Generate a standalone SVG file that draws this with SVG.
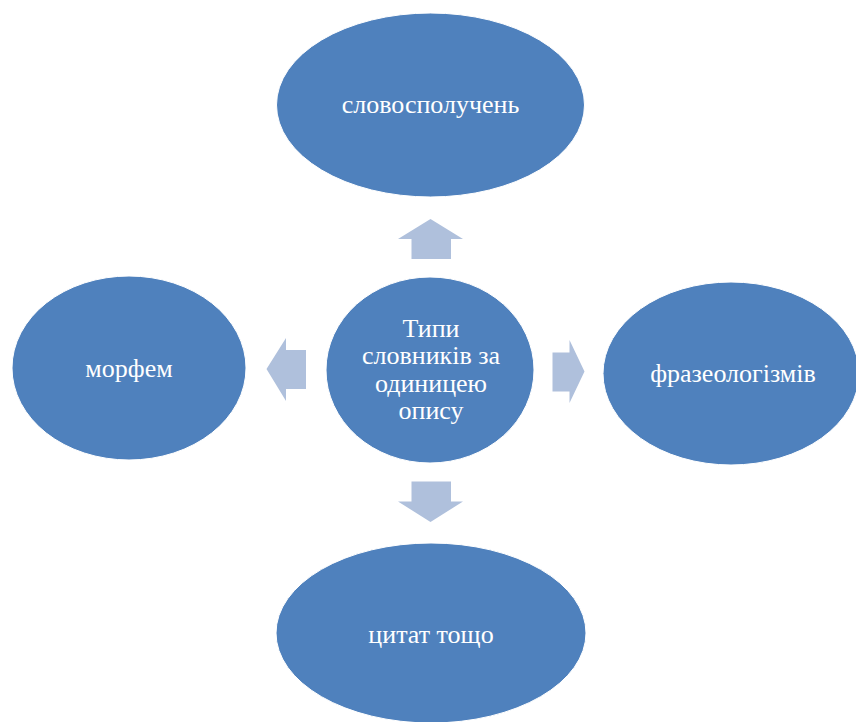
<svg xmlns="http://www.w3.org/2000/svg" width="856" height="722" viewBox="0 0 856 722">
<style>
.node ellipse{fill:#4F81BD;stroke:#FFFFFF;stroke-width:1}
.node text{font-family:"Liberation Serif","Times New Roman",serif;font-size:26px;fill:#FFFFFF;text-anchor:middle}
.arrow{fill:#AFC0DC}
</style>
<rect width="856" height="722" fill="#FFFFFF"/>
<g id="connectors">
<polygon class="arrow" points="430.5,219 463,239 451,239 451,259 411.5,259 411.5,239 398,239"/>
<polygon class="arrow" points="266.5,369 286,338 286,350 306,350 306,389 286,389 286,401"/>
<polygon class="arrow" points="584.5,371.5 569.5,340 569.5,352.5 552.5,352.5 552.5,391.5 569.5,391.5 569.5,403"/>
<polygon class="arrow" points="430.5,522 463,501.5 451,501.5 451,481.5 411.5,481.5 411.5,501.5 398,501.5"/>
</g>
<g id="node-center" class="node">
<ellipse cx="430" cy="370" rx="104" ry="93"/>
<text x="431" y="337">Типи</text>
<text x="431" y="364">словників за</text>
<text x="431" y="391.5">одиницею</text>
<text x="431" y="418.5">опису</text>
</g>
<g id="node-top" class="node">
<ellipse cx="430.5" cy="105" rx="154" ry="92"/>
<text x="430.5" y="113">словосполучень</text>
</g>
<g id="node-left" class="node">
<ellipse cx="129" cy="368" rx="117" ry="92"/>
<text x="129" y="377">морфем</text>
</g>
<g id="node-right" class="node">
<ellipse cx="731" cy="373.5" rx="128" ry="91.5"/>
<text x="733" y="382">фразеологізмів</text>
</g>
<g id="node-bottom" class="node">
<ellipse cx="431" cy="633" rx="155" ry="90"/>
<text x="431" y="643">цитат тощо</text>
</g>
</svg>
